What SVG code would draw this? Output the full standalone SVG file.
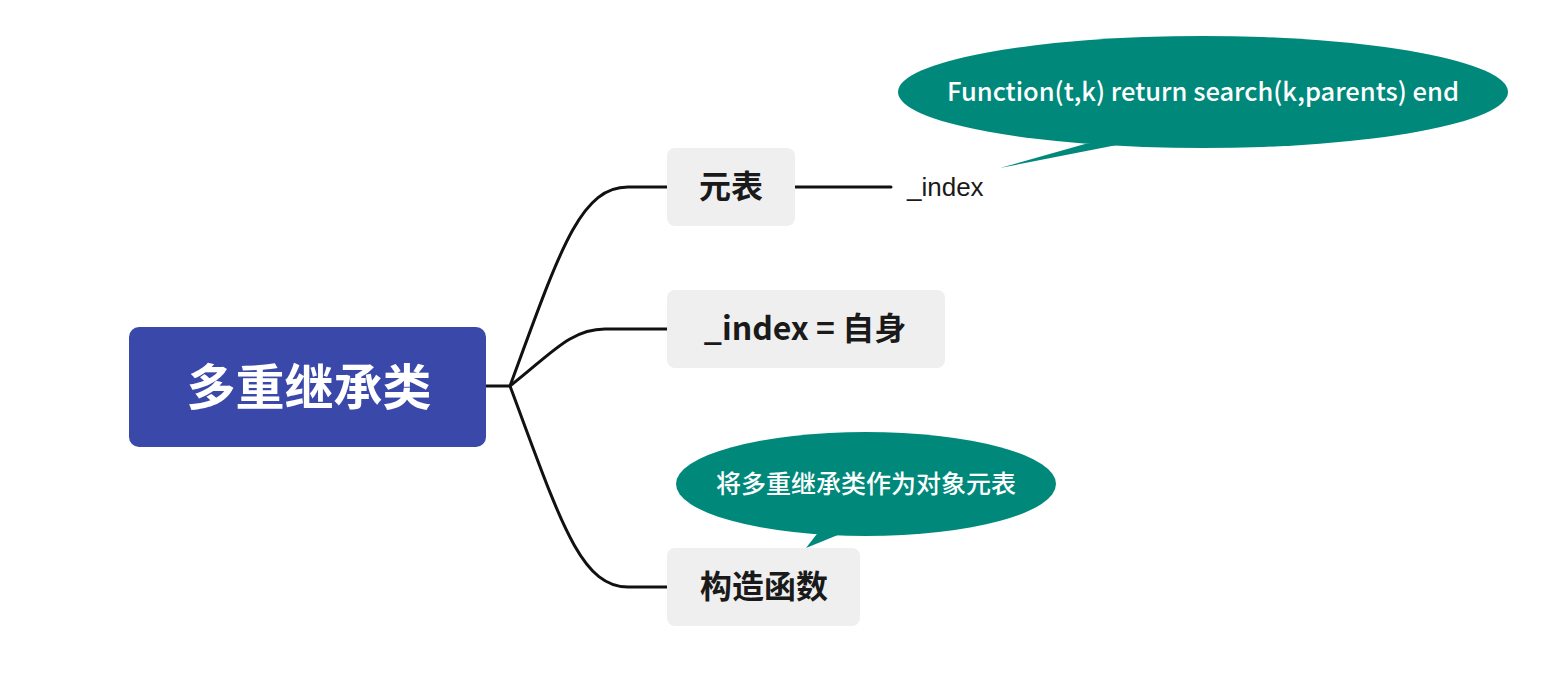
<svg xmlns="http://www.w3.org/2000/svg" width="1558" height="689" viewBox="0 0 1558 689">
<style>
.node{fill:#efefef}
.lbl{font-family:"Noto Sans CJK SC","Noto Sans",sans-serif;font-weight:bold;font-size:32px;fill:#1a1a1a;text-anchor:middle}
.conn{fill:none;stroke:#111;stroke-width:3;stroke-linecap:round}
.bubble{fill:#00897b}
.btxt{font-family:"Noto Sans CJK SC","Noto Sans",sans-serif;fill:#fff;text-anchor:middle;font-weight:500}
</style>
<rect width="1558" height="689" fill="#fff"/>
<g id="connectors">
<path class="conn" d="M486 386 H510"/>
<path class="conn" d="M510 386 C560 250 580 187 628 187 H667"/>
<path class="conn" d="M510 386 C550 355 570 329 605 329 H667"/>
<path class="conn" d="M510 386 C560 520 580 587 628 587 H667"/>
<path class="conn" d="M795 187 H891"/>
</g>
<g id="root">
<rect x="129" y="327" width="357" height="120" rx="10" fill="#3a48aa"/>
<text x="309" y="405" font-family="'Noto Sans CJK SC','Noto Sans',sans-serif" font-weight="bold" font-size="49" fill="#fff" text-anchor="middle">多重继承类</text>
</g>
<g id="n-yuanbiao">
<rect class="node" x="667" y="148" width="128" height="78" rx="8"/>
<text class="lbl" x="731" y="198">元表</text>
</g>
<g id="n-index-label">
<text x="907" y="196" font-family="'Liberation Sans','Noto Sans',sans-serif" font-size="26" fill="#1a1a1a">_index</text>
</g>
<g id="n-index-self">
<rect class="node" x="667" y="290" width="278" height="78" rx="8"/>
<text class="lbl" x="805" y="340" font-family="'Liberation Sans','Noto Sans CJK SC',sans-serif">_index = 自身</text>
</g>
<g id="n-ctor">
<rect class="node" x="667" y="548" width="193" height="78" rx="8"/>
<text class="lbl" x="764" y="598">构造函数</text>
</g>
<g id="callout-1">
<path class="bubble" d="M1000 168 L1085 144 L1122 144 Z"/>
<ellipse class="bubble" cx="1203" cy="92" rx="305" ry="56"/>
<text class="btxt" x="1203" y="101" font-size="25.5">Function(t,k) return search(k,parents) end</text>
</g>
<g id="callout-2">
<path class="bubble" d="M806 548 L820 530 L850 530 Z"/>
<ellipse class="bubble" cx="866" cy="484" rx="190" ry="52"/>
<text class="btxt" x="866" y="493" font-size="25">将多重继承类作为对象元表</text>
</g>
</svg>
